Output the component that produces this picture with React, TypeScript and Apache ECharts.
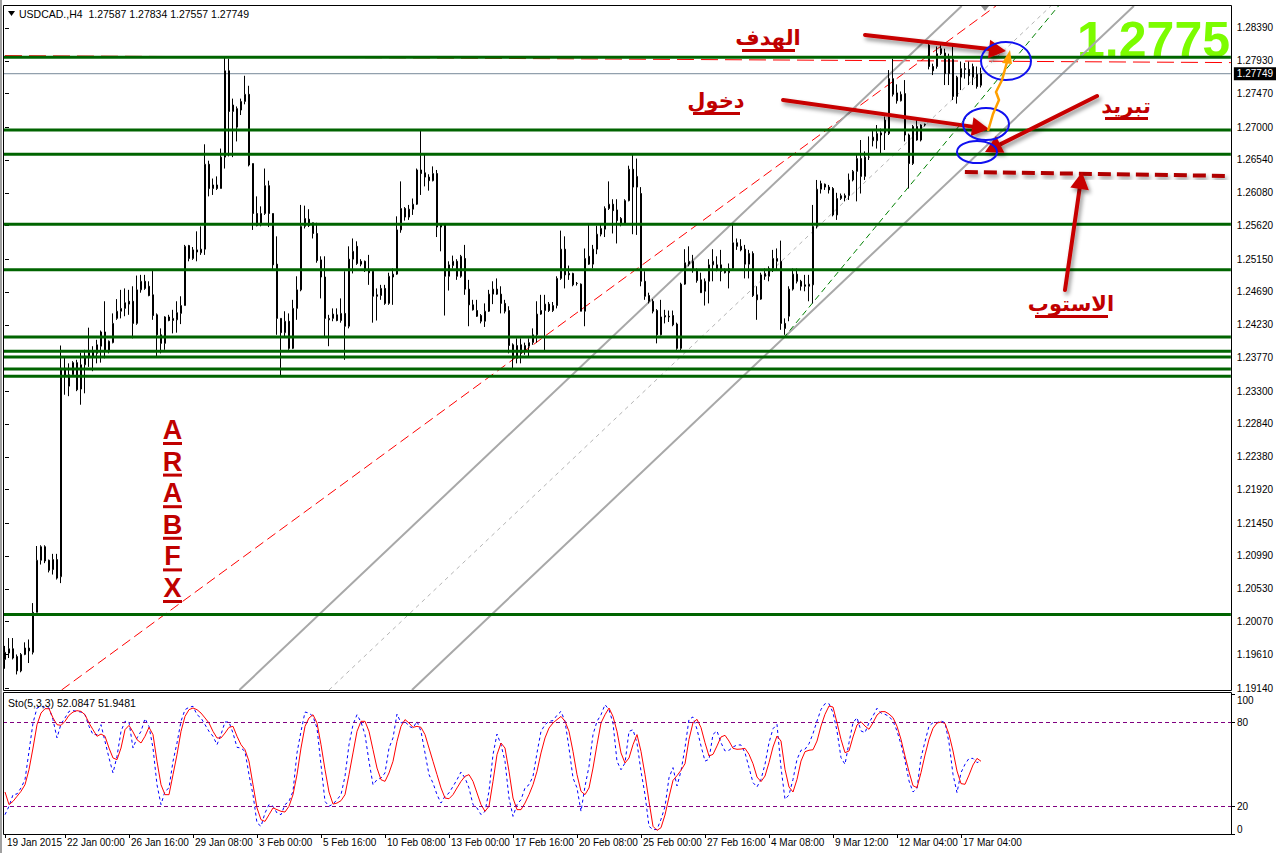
import React, { useEffect, useRef } from "react";
import * as echarts from "echarts";

const SLOTS = 307;

const timeLabels = ["19 Jan 2015", "22 Jan 00:00", "26 Jan 16:00", "29 Jan 08:00", "3 Feb 00:00", "5 Feb 16:00", "10 Feb 08:00", "13 Feb 00:00", "17 Feb 16:00", "20 Feb 08:00", "25 Feb 00:00", "27 Feb 16:00", "4 Mar 08:00", "9 Mar 12:00", "12 Mar 04:00", "17 Mar 04:00"];
const timeLabelBars = [0, 15, 31, 47, 63, 79, 95, 111, 127, 143, 159, 175, 191, 207, 223, 239];

const priceTicks = [1.2839, 1.2793, 1.2747, 1.27, 1.2654, 1.2608, 1.2562, 1.2515, 1.2469, 1.2423, 1.2377, 1.233, 1.2284, 1.2238, 1.2192, 1.2145, 1.2099, 1.2053, 1.2007, 1.1961, 1.1914];
const priceLevels = [1.2798, 1.2696, 1.2662, 1.2564, 1.25, 1.2406, 1.2386, 1.2378, 1.2361, 1.2351, 1.2017];
const lastPrice = 1.27749;

// [open, close, low, high]
const candles = [
  [1.1954, 1.1964, 1.1941, 1.1973], [1.1963, 1.1969, 1.1956, 1.1984], [1.1969, 1.1956, 1.1954, 1.1984], [1.1958, 1.1938, 1.1933, 1.1961], [1.1938, 1.1961, 1.1936, 1.1963],
  [1.1961, 1.197, 1.196, 1.1978], [1.197, 1.1966, 1.1949, 1.1982], [1.1964, 1.202, 1.1961, 1.2033], [1.202, 1.2093, 1.202, 1.2113], [1.2093, 1.2112, 1.2087, 1.2114],
  [1.2112, 1.2092, 1.2089, 1.2114], [1.2093, 1.2079, 1.2076, 1.2094], [1.208, 1.2094, 1.2073, 1.2102], [1.2094, 1.2068, 1.2066, 1.2102], [1.207, 1.2362, 1.2061, 1.2394],
  [1.2362, 1.2351, 1.2325, 1.2379], [1.2337, 1.2353, 1.2323, 1.2369], [1.2353, 1.237, 1.2351, 1.2372], [1.237, 1.2332, 1.233, 1.2374], [1.2333, 1.2367, 1.2311, 1.2384],
  [1.2367, 1.2379, 1.2327, 1.2388], [1.2377, 1.2384, 1.2364, 1.2419], [1.2379, 1.2386, 1.2358, 1.2393], [1.2383, 1.2395, 1.2369, 1.2402], [1.2393, 1.2413, 1.237, 1.2415],
  [1.2413, 1.2387, 1.2376, 1.2456], [1.2387, 1.24, 1.2383, 1.2401], [1.2398, 1.2425, 1.2397, 1.2439], [1.2432, 1.2442, 1.243, 1.2459], [1.2442, 1.2446, 1.2432, 1.2472],
  [1.2446, 1.2454, 1.2435, 1.2474], [1.2456, 1.2452, 1.2437, 1.2472], [1.2456, 1.2425, 1.2404, 1.2477], [1.2425, 1.2472, 1.2423, 1.2492], [1.2472, 1.2484, 1.2468, 1.2493],
  [1.2484, 1.2474, 1.2472, 1.2493], [1.2477, 1.2464, 1.2463, 1.2484], [1.2465, 1.2436, 1.243, 1.2499], [1.2437, 1.2409, 1.2378, 1.2439], [1.2409, 1.2397, 1.2383, 1.2418],
  [1.2397, 1.2434, 1.2388, 1.2435], [1.2434, 1.2429, 1.2428, 1.2437], [1.2429, 1.2432, 1.2411, 1.2444], [1.243, 1.244, 1.2412, 1.2456], [1.2439, 1.245, 1.2424, 1.2463],
  [1.245, 1.2533, 1.245, 1.2535], [1.2534, 1.2516, 1.2512, 1.2535], [1.2516, 1.2528, 1.2514, 1.2532], [1.2528, 1.2525, 1.2512, 1.2554], [1.2524, 1.2529, 1.2521, 1.2561],
  [1.2529, 1.2648, 1.2521, 1.2676], [1.2648, 1.2614, 1.2603, 1.2653], [1.2614, 1.2619, 1.2605, 1.2628], [1.2619, 1.2614, 1.2612, 1.2631], [1.2614, 1.2658, 1.2614, 1.267],
  [1.2658, 1.2779, 1.2642, 1.2798], [1.2779, 1.2722, 1.2659, 1.2796], [1.2722, 1.2731, 1.2658, 1.274], [1.27, 1.2726, 1.268, 1.2729], [1.2724, 1.2736, 1.2717, 1.274],
  [1.2736, 1.2746, 1.2732, 1.2772], [1.2746, 1.2647, 1.2645, 1.2758], [1.2649, 1.2579, 1.2556, 1.2649], [1.2579, 1.2562, 1.2561, 1.2603], [1.2563, 1.2579, 1.2561, 1.2589],
  [1.2579, 1.2618, 1.2577, 1.2642], [1.2618, 1.2579, 1.256, 1.2625], [1.2579, 1.2507, 1.25, 1.2579], [1.2508, 1.2432, 1.2409, 1.2547], [1.2432, 1.2412, 1.2351, 1.2432],
  [1.2412, 1.2428, 1.2407, 1.2442], [1.2428, 1.239, 1.2388, 1.2439], [1.239, 1.2446, 1.2389, 1.2458], [1.2446, 1.2472, 1.243, 1.2491], [1.2472, 1.2561, 1.247, 1.2591],
  [1.2561, 1.2572, 1.2558, 1.259], [1.2571, 1.2562, 1.256, 1.2585], [1.2566, 1.2551, 1.2544, 1.2566], [1.2551, 1.2513, 1.251, 1.2566], [1.2514, 1.249, 1.246, 1.2519],
  [1.249, 1.2432, 1.2407, 1.2519], [1.243, 1.2432, 1.2393, 1.2437], [1.2432, 1.2438, 1.2428, 1.2446], [1.2437, 1.2429, 1.2428, 1.2446], [1.2429, 1.2439, 1.2426, 1.246],
  [1.2439, 1.2421, 1.2374, 1.2498], [1.2421, 1.2515, 1.2418, 1.2533], [1.2515, 1.2526, 1.2495, 1.2544], [1.2533, 1.2509, 1.2507, 1.254], [1.2512, 1.2508, 1.2505, 1.2515],
  [1.2512, 1.2499, 1.2497, 1.2513], [1.25, 1.2496, 1.2479, 1.2521], [1.2498, 1.2463, 1.2426, 1.2498], [1.2465, 1.2463, 1.2429, 1.2474], [1.2464, 1.2474, 1.2458, 1.2479],
  [1.2474, 1.2453, 1.2451, 1.2479], [1.2453, 1.2491, 1.2451, 1.2496], [1.249, 1.2494, 1.2451, 1.2502], [1.2494, 1.2556, 1.2493, 1.2575], [1.2556, 1.2586, 1.2552, 1.2624],
  [1.2586, 1.2574, 1.2569, 1.2588], [1.2574, 1.2585, 1.257, 1.2591], [1.2585, 1.2592, 1.2577, 1.26], [1.2592, 1.264, 1.2591, 1.2642], [1.264, 1.2635, 1.2605, 1.2696],
  [1.2636, 1.263, 1.2617, 1.2663], [1.263, 1.2625, 1.2611, 1.2634], [1.2625, 1.2635, 1.2624, 1.2645], [1.2635, 1.256, 1.2546, 1.264], [1.2563, 1.256, 1.2526, 1.2565],
  [1.2563, 1.2491, 1.2436, 1.2565], [1.2491, 1.2507, 1.2471, 1.2512], [1.2506, 1.2512, 1.2502, 1.252], [1.2512, 1.2491, 1.2486, 1.2515], [1.2491, 1.2519, 1.2489, 1.2521],
  [1.2516, 1.2473, 1.2465, 1.2535], [1.2473, 1.2451, 1.2421, 1.2486], [1.2451, 1.2444, 1.2443, 1.2458], [1.2443, 1.2435, 1.2434, 1.2458], [1.2436, 1.2428, 1.2425, 1.2438],
  [1.2428, 1.2442, 1.242, 1.2453], [1.2442, 1.2466, 1.2441, 1.2472], [1.2466, 1.2473, 1.2452, 1.2484], [1.2473, 1.2466, 1.2465, 1.2488], [1.2466, 1.2453, 1.2439, 1.2477],
  [1.2453, 1.2442, 1.2439, 1.2458], [1.2443, 1.2394, 1.2383, 1.2449], [1.2395, 1.2376, 1.2361, 1.2397], [1.2376, 1.2394, 1.2369, 1.2404], [1.2395, 1.2383, 1.2369, 1.2404],
  [1.2387, 1.2394, 1.2381, 1.2398], [1.2393, 1.2398, 1.2379, 1.2404], [1.2398, 1.2409, 1.2395, 1.2418], [1.2409, 1.2438, 1.2398, 1.2456], [1.2438, 1.2443, 1.2437, 1.2465],
  [1.2443, 1.2452, 1.2387, 1.2465], [1.2452, 1.2443, 1.2441, 1.2455], [1.2443, 1.245, 1.2441, 1.2455], [1.245, 1.2488, 1.2446, 1.2491], [1.2488, 1.2529, 1.2486, 1.2555],
  [1.2529, 1.2493, 1.2474, 1.2547], [1.2495, 1.2493, 1.2486, 1.2506], [1.2495, 1.2479, 1.2477, 1.2496], [1.2481, 1.2481, 1.2478, 1.2483], [1.248, 1.2442, 1.2442, 1.2481],
  [1.2442, 1.2516, 1.2421, 1.253], [1.2519, 1.2508, 1.2507, 1.2564], [1.2508, 1.2529, 1.2502, 1.2535], [1.2529, 1.255, 1.2522, 1.2562], [1.255, 1.2558, 1.2547, 1.2565],
  [1.2557, 1.2586, 1.2546, 1.2589], [1.2586, 1.2592, 1.2584, 1.2624], [1.2592, 1.2583, 1.2551, 1.2599], [1.2584, 1.2569, 1.2537, 1.2599], [1.2572, 1.2565, 1.2561, 1.2574],
  [1.2565, 1.2597, 1.2564, 1.2599], [1.2597, 1.2641, 1.2596, 1.2646], [1.2641, 1.2616, 1.255, 1.2662], [1.2616, 1.2631, 1.2549, 1.2656], [1.2607, 1.2484, 1.2477, 1.2616],
  [1.2484, 1.2463, 1.2458, 1.2498], [1.2464, 1.2456, 1.2453, 1.2468], [1.2456, 1.2442, 1.2439, 1.2459], [1.2443, 1.2409, 1.2397, 1.2445], [1.2409, 1.2434, 1.2408, 1.2458],
  [1.2434, 1.2436, 1.2425, 1.2444], [1.2435, 1.2434, 1.2427, 1.2443], [1.2436, 1.2423, 1.2421, 1.2443], [1.2424, 1.239, 1.2388, 1.2426], [1.239, 1.248, 1.2386, 1.2482],
  [1.248, 1.251, 1.2479, 1.2529], [1.2508, 1.2512, 1.2505, 1.2533], [1.2512, 1.2499, 1.2496, 1.2521], [1.25, 1.2485, 1.2482, 1.2502], [1.2486, 1.2468, 1.2468, 1.2496],
  [1.247, 1.2484, 1.245, 1.2488], [1.2484, 1.2507, 1.2453, 1.2515], [1.2507, 1.2512, 1.2484, 1.2529], [1.2507, 1.2501, 1.2498, 1.2519], [1.2507, 1.2498, 1.2484, 1.2528],
  [1.2499, 1.2496, 1.2495, 1.2502], [1.2496, 1.2502, 1.2474, 1.2509], [1.2502, 1.2538, 1.25, 1.2564], [1.2538, 1.2533, 1.2528, 1.2544], [1.2533, 1.2528, 1.2526, 1.2543],
  [1.2529, 1.2508, 1.2488, 1.2535], [1.2508, 1.2523, 1.2488, 1.2528], [1.2523, 1.2464, 1.2462, 1.2526], [1.2465, 1.2458, 1.243, 1.2477], [1.2459, 1.2493, 1.2458, 1.2496],
  [1.2491, 1.2495, 1.2486, 1.2502], [1.2491, 1.2502, 1.2484, 1.2505], [1.2502, 1.2516, 1.2497, 1.2528], [1.2512, 1.2516, 1.25, 1.253], [1.2512, 1.2425, 1.2416, 1.2541],
  [1.2425, 1.2418, 1.2409, 1.2432], [1.2435, 1.2473, 1.2428, 1.2477], [1.2473, 1.2494, 1.2471, 1.2502], [1.2494, 1.2484, 1.2481, 1.2502], [1.2484, 1.2477, 1.2471, 1.2486],
  [1.2479, 1.2477, 1.247, 1.2493], [1.2477, 1.248, 1.2456, 1.2493], [1.2479, 1.2561, 1.2453, 1.2591], [1.2561, 1.2613, 1.2558, 1.2626], [1.2613, 1.2621, 1.2607, 1.2625],
  [1.262, 1.2616, 1.2612, 1.2621], [1.2616, 1.2612, 1.2607, 1.2619], [1.2614, 1.2577, 1.2575, 1.2616], [1.2577, 1.26, 1.257, 1.2608], [1.26, 1.2604, 1.2598, 1.2607],
  [1.2604, 1.2601, 1.2596, 1.2607], [1.2604, 1.2626, 1.2598, 1.2635], [1.2626, 1.2638, 1.2624, 1.264], [1.2638, 1.2656, 1.2596, 1.2661], [1.2656, 1.2631, 1.2607, 1.2682],
  [1.2631, 1.2658, 1.2626, 1.2666], [1.2658, 1.2658, 1.2654, 1.2687], [1.2681, 1.2686, 1.2673, 1.2696], [1.2681, 1.2691, 1.267, 1.2703], [1.2689, 1.2692, 1.2663, 1.2698],
  [1.2692, 1.271, 1.2668, 1.2715], [1.2691, 1.2768, 1.2689, 1.278], [1.2768, 1.2746, 1.2743, 1.2796], [1.2748, 1.2737, 1.2733, 1.276], [1.2737, 1.2746, 1.2736, 1.275],
  [1.2747, 1.2689, 1.268, 1.2766], [1.2689, 1.2649, 1.2614, 1.2691], [1.2649, 1.2701, 1.2647, 1.2703], [1.2701, 1.2682, 1.2681, 1.2711], [1.2682, 1.2703, 1.268, 1.2704],
  [1.2703, 1.2704, 1.2701, 1.2705], [1.2815, 1.2785, 1.2781, 1.282], [1.2785, 1.2779, 1.2773, 1.2789], [1.2785, 1.2803, 1.2782, 1.2813], [1.2803, 1.281, 1.2801, 1.2815],
  [1.2804, 1.2775, 1.2759, 1.281], [1.2796, 1.2775, 1.2759, 1.2803], [1.2795, 1.2743, 1.2738, 1.2817], [1.2743, 1.277, 1.2733, 1.2772], [1.277, 1.2782, 1.2752, 1.2792],
  [1.2782, 1.2781, 1.2768, 1.279], [1.2781, 1.2772, 1.2759, 1.2792], [1.277, 1.2785, 1.2759, 1.2789], [1.2774, 1.2757, 1.2754, 1.2785], [1.27587, 1.27749, 1.27557, 1.27834],
];

const stochK = [
  13.8, 19.8, 28.1, 28.6, 32.9, 38.8, 59.0, 79.3, 90.0, 91.2, 90.5, 90.0, 81.7, 68.6, 78.6, 82.9, 87.6, 88.1, 87.6, 87.1,
  85.2, 76.9, 71.0, 71.0, 78.1, 66.2, 54.3, 43.6, 55.5, 73.3, 80.5, 80.0, 61.4, 68.6, 73.3, 82.4, 76.9, 61.4, 35.2, 21.0,
  30.5, 32.9, 51.9, 65.0, 80.5, 88.8, 90.5, 91.2, 85.2, 82.9, 78.1, 73.3, 69.8, 63.8, 71.0, 80.0, 80.0, 72.1, 61.9, 61.4,
  59.0, 42.4, 28.1, 7.9, 5.5, 15.0, 21.0, 19.8, 15.0, 13.8, 21.0, 23.3, 30.5, 57.9, 73.3, 87.1, 86.4, 84.0, 75.7, 49.5,
  23.3, 19.8, 21.4, 24.5, 28.1, 41.2, 63.8, 78.1, 85.2, 80.0, 71.0, 51.9, 35.2, 38.8, 40.0, 43.6, 61.4, 68.6, 85.7, 79.3,
  80.5, 76.9, 75.7, 80.5, 73.3, 57.9, 42.4, 36.4, 28.1, 22.1, 26.9, 29.3, 34.0, 38.8, 44.3, 40.0, 32.9, 21.0, 18.6, 13.8,
  16.2, 30.5, 56.7, 71.4, 63.8, 51.9, 25.7, 12.6, 21.0, 24.5, 32.9, 35.2, 41.2, 57.9, 73.3, 78.1, 80.5, 81.0, 84.8, 87.6,
  80.5, 61.4, 40.0, 32.9, 16.2, 34.0, 48.3, 71.0, 80.5, 85.2, 92.4, 88.8, 79.3, 51.9, 45.9, 50.7, 73.3, 74.5, 65.0, 44.8,
  28.1, 5.5, 3.1, 3.3, 10.5, 19.5, 40.2, 47.4, 34.3, 45.0, 61.7, 81.9, 83.6, 74.8, 62.9, 52.1, 53.3, 71.2, 73.6, 65.2,
  59.3, 59.8, 62.1, 63.6, 63.6, 58.1, 47.4, 36.7, 33.6, 39.0, 49.8, 65.2, 75.2, 78.3, 47.4, 24.8, 27.9, 39.0, 53.3, 59.8,
  60.5, 64.5, 71.7, 80.7, 89.0, 93.1, 93.1, 86.7, 73.6, 54.5, 49.8, 65.2, 79.5, 83.1, 73.6, 72.4, 79.5, 84.3, 89.8, 86.4,
  85.5, 84.0, 80.7, 73.6, 64.0, 52.6, 37.9, 30.0, 32.6, 54.5, 66.0, 77.1, 79.5, 79.5, 80.7, 79.5, 65.2, 42.6, 29.5, 43.8,
  49.8, 54.0, 54.0, 51.0, 52.0847,
];

const stochD = [
  30.0, 21.0, 23.3, 26.9, 30.5, 35.2, 46.0, 61.4, 78.1, 86.4, 89.5, 89.5, 82.9, 78.1, 77.6, 80.5, 84.8, 87.1, 88.1, 87.6,
  85.2, 79.3, 74.5, 69.8, 71.4, 69.8, 61.4, 54.3, 53.1, 61.4, 74.5, 77.6, 72.9, 67.4, 65.0, 69.8, 76.2, 71.0, 51.9, 35.2,
  28.1, 28.1, 42.4, 56.7, 73.3, 84.0, 88.8, 90.0, 88.8, 86.4, 82.9, 79.3, 73.3, 68.6, 68.6, 72.1, 76.2, 76.9, 69.8, 63.8,
  60.2, 51.9, 35.2, 18.6, 10.2, 9.0, 13.8, 18.6, 17.4, 16.2, 15.7, 19.8, 28.1, 42.4, 61.4, 76.9, 82.9, 85.2, 79.3, 63.8,
  46.0, 30.0, 21.4, 22.1, 23.8, 28.1, 42.4, 57.9, 73.3, 80.5, 80.5, 73.3, 60.2, 47.1, 38.8, 37.6, 43.6, 51.9, 66.2, 76.9,
  81.7, 79.3, 76.2, 76.9, 76.2, 71.0, 61.4, 51.9, 42.4, 32.9, 25.7, 25.2, 28.1, 32.9, 37.6, 41.2, 42.4, 37.6, 29.3, 21.0,
  16.2, 19.8, 37.6, 56.7, 65.0, 61.4, 44.8, 25.7, 17.4, 17.4, 22.1, 28.1, 35.2, 44.8, 57.9, 68.6, 75.7, 79.3, 81.7, 84.0,
  80.5, 73.3, 59.0, 42.4, 30.5, 28.1, 32.9, 47.1, 63.8, 79.3, 85.2, 90.0, 84.0, 73.3, 57.9, 50.7, 54.3, 63.8, 71.0, 59.0,
  42.4, 23.3, 5.5, 2.6, 4.5, 13.6, 26.4, 38.3, 41.7, 45.5, 50.2, 67.6, 79.5, 81.9, 76.0, 65.2, 55.7, 56.9, 62.9, 69.3,
  70.5, 66.4, 61.2, 60.5, 60.7, 61.2, 56.9, 50.2, 40.7, 37.4, 41.4, 51.0, 62.1, 70.0, 66.4, 46.2, 33.6, 30.0, 39.0, 52.1,
  58.8, 59.8, 60.2, 66.4, 77.1, 85.5, 91.4, 90.7, 79.5, 67.6, 58.1, 59.3, 69.3, 77.9, 80.2, 77.1, 74.8, 79.5, 85.0, 87.4,
  87.4, 85.7, 83.1, 76.9, 67.6, 55.7, 44.5, 34.5, 33.1, 43.8, 56.4, 67.6, 75.5, 79.3, 80.0, 79.0, 71.2, 59.3, 45.0, 36.0,
  35.5, 42.1, 49.3, 54.0, 51.9481,
];
const stochLevels = [80, 20];
const stochTicks = [0, 20, 80, 100];

// drawn objects, in [bar index, price]
const redTopLine = [[0, 1.28003], [306.5, 1.27905]];
const redChannelLine = [[14.15, 1.19112], [247.75, 1.28698]];
const greyUpperLine = [[58.6, 1.19112], [239.2, 1.28698]];
const greyMidLine = [[81, 1.19112], [261.5, 1.28698]];
const greyLowerLine = [[101.75, 1.19112], [282.25, 1.28698]];
const greenRayLine = [[194.6, 1.24041], [263.4, 1.28698]];
const stopLine = [[240, 1.26372], [306.5, 1.26316]];

const FONT = "Liberation Sans";
const AR_FONT = "DejaVu Sans";
const DARK_RED = "#C00000";

function arrow(x1: number, y1: number, x2: number, y2: number, color: string, width: number, head: number) {
  const a = Math.atan2(y2 - y1, x2 - x1);
  const hx = x2 - head * Math.cos(a);
  const hy = y2 - head * Math.sin(a);
  const px = -Math.sin(a) * head * 0.55;
  const py = Math.cos(a) * head * 0.55;
  const shadow = { shadowBlur: 4, shadowColor: "rgba(0,0,0,0.45)", shadowOffsetX: 2, shadowOffsetY: 3 };
  return [
    { type: "line", z: 30, shape: { x1, y1, x2: hx, y2: hy }, style: { stroke: color, lineWidth: width, lineCap: "round", ...shadow } },
    { type: "polygon", z: 30, shape: { points: [[x2, y2], [hx + px, hy + py], [hx - px, hy - py]] }, style: { fill: color, ...shadow } },
  ];
}

function arText(text: string, cx: number, cy: number, size: number, ux1: number, ux2: number, uy: number) {
  return [
    { type: "text", z: 30, x: cx, y: cy, style: { text, fill: DARK_RED, fontFamily: AR_FONT, fontWeight: "bold", fontSize: size, align: "center", verticalAlign: "middle", shadowBlur: 2, shadowColor: "rgba(120,0,120,0.5)", shadowOffsetX: 1, shadowOffsetY: 1 } },
    { type: "rect", z: 30, shape: { x: ux1, y: uy, width: ux2 - ux1, height: 3 }, style: { fill: DARK_RED } },
  ];
}

function buildGraphics() {
  const g: any[] = [];
  g.push({ type: "rect", z: 0, shape: { x: 0, y: 0, width: 2, height: 853 }, style: { fill: "#A0A0A0" } });
  g.push({ type: "rect", z: 40, shape: { x: 3.5, y: 5.5, width: 1228, height: 685 }, style: { fill: "none", stroke: "#000", lineWidth: 1 } });
  g.push({ type: "rect", z: 40, shape: { x: 3.5, y: 692.5, width: 1228, height: 142 }, style: { fill: "none", stroke: "#000", lineWidth: 1 } });
  // header
  g.push({ type: "polygon", z: 40, shape: { points: [[8, 11], [15, 11], [11.5, 16]] }, style: { fill: "#000" } });
  g.push({ type: "text", z: 40, x: 19, y: 14, style: { text: "USDCAD.,H4  1.27587 1.27834 1.27557 1.27749", fill: "#000", fontFamily: FONT, fontSize: 10.5, verticalAlign: "middle" } });
  g.push({ type: "text", z: 40, x: 8, y: 703, style: { text: "Sto(5,3,3) 52.0847 51.9481", fill: "#000", fontFamily: FONT, fontSize: 10.5, verticalAlign: "middle" } });
  // chart shift marker
  g.push({ type: "polygon", z: 40, shape: { points: [[981, 6], [989, 6], [985, 11]] }, style: { fill: "#909090" } });
  // big green price
  g.push({ type: "text", z: 1, x: 1230, y: 40, style: { text: "1.2775", fill: "#7CFC00", fontFamily: FONT, fontWeight: "bold", fontSize: 50, align: "right", verticalAlign: "middle" } });
  // ARABFX
  const letters = ["A", "R", "A", "B", "F", "X"];
  letters.forEach((ch, i) => {
    const cy = 430 + i * 31.6;
    g.push({ type: "text", z: 30, x: 172.5, y: cy, style: { text: ch, fill: DARK_RED, fontFamily: FONT, fontWeight: "bold", fontSize: 27, align: "center", verticalAlign: "middle" } });
    g.push({ type: "rect", z: 30, shape: { x: 163, y: cy + 12, width: 19, height: 3 }, style: { fill: DARK_RED } });
  });
  // Arabic labels
  g.push(...arText("الهدف", 768, 38, 21, 742, 795, 49));
  g.push(...arText("دخول", 716, 101, 21, 693, 740, 112));
  g.push(...arText("تبريد", 1126, 106, 21, 1105, 1148, 117));
  g.push(...arText("الاستوب", 1071, 304, 21, 1035, 1108, 315));
  // arrows
  g.push(...arrow(865, 35, 1006, 51, "#C80000", 4, 17));
  g.push(...arrow(783, 100, 989, 129, "#C80000", 4, 17));
  g.push(...arrow(1097, 96, 985, 152, "#C80000", 4, 17));
  g.push(...arrow(1065, 290, 1082, 172, "#C80000", 4, 17));
  // ellipses
  g.push({ type: "ellipse", z: 31, shape: { cx: 1006, cy: 61, rx: 25, ry: 19 }, style: { fill: "none", stroke: "#1010F0", lineWidth: 2 } });
  g.push({ type: "ellipse", z: 31, shape: { cx: 986, cy: 124, rx: 23, ry: 16 }, style: { fill: "none", stroke: "#1010F0", lineWidth: 2 } });
  g.push({ type: "ellipse", z: 31, shape: { cx: 977, cy: 152, rx: 20, ry: 11 }, style: { fill: "none", stroke: "#1010F0", lineWidth: 2 } });
  // orange zigzag arrow
  g.push({ type: "polyline", z: 32, shape: { points: [[988, 131], [993, 114], [999, 100], [996, 92], [1002, 80], [1007, 62]] }, style: { stroke: "#FFA000", lineWidth: 2.5, fill: "none" } });
  g.push({ type: "polygon", z: 32, shape: { points: [[1010, 50], [1002, 63], [1012, 64]] }, style: { fill: "#FFA000" } });
  return g;
}

function lineSeries(data: number[][], color: string, width: number, type: any, z: number, extra: any = {}) {
  return {
    type: "line", xAxisIndex: 1, yAxisIndex: 0, data, symbol: "none", silent: true, z,
    lineStyle: { color, width, type, ...extra },
  };
}

export default function App() {
  const ref = useRef<HTMLDivElement>(null);
  useEffect(() => {
    document.body.style.margin = "0";
    const chart = echarts.init(ref.current!, null, { renderer: "svg" });
    const cats = Array.from({ length: SLOTS }, (_, i) => String(i));
    const labelMap: Record<number, string> = {};
    timeLabelBars.forEach((b, i) => (labelMap[b] = timeLabels[i]));
    const showIdx = (i: number) => labelMap[i] !== undefined;

    const option: any = {
      animation: false,
      backgroundColor: "#fff",
      grid: [
        { left: 3, top: 6, width: 1228, height: 684 },
        { left: 3, top: 694, width: 1228, height: 140 },
      ],
      xAxis: [
        { type: "category", gridIndex: 0, data: cats, show: false, boundaryGap: true },
        { type: "value", gridIndex: 0, min: -0.5, max: SLOTS - 0.5, show: false },
        {
          type: "category", gridIndex: 1, data: cats, boundaryGap: true, position: "bottom",
          axisLine: { show: false },
          axisTick: { show: true, interval: (i: number) => showIdx(i), alignWithLabel: true, length: 4, lineStyle: { color: "#000" } },
          axisLabel: { interval: (i: number) => showIdx(i), formatter: (v: string) => labelMap[Number(v)] ?? "", align: "left", margin: 3, padding: [0, 0, 0, 2], fontSize: 10, color: "#000", fontFamily: FONT },
          splitLine: { show: false },
        },
      ],
      yAxis: [
        {
          type: "value", gridIndex: 0, position: "right", min: 1.19112, max: 1.28698, scale: true,
          axisLine: { show: false }, splitLine: { show: false },
          axisTick: { show: true, customValues: priceTicks, length: 4, lineStyle: { color: "#000" } },
          axisLabel: { customValues: priceTicks, formatter: (v: number) => v.toFixed(5), margin: 6, fontSize: 10, color: "#000", fontFamily: FONT },
        },
        {
          type: "value", gridIndex: 1, position: "right", min: 0, max: 100,
          axisLine: { show: false }, splitLine: { show: false },
          axisTick: { show: true, customValues: stochTicks, length: 4, lineStyle: { color: "#000" } },
          axisLabel: {
            customValues: stochTicks, margin: 6, fontSize: 10, color: "#000", fontFamily: FONT, verticalAlignMinLabel: "bottom",
            formatter: (v: number) => (v === 100 ? "{t|100}" : String(v)),
            rich: { t: { fontSize: 10, color: "#000", fontFamily: FONT, padding: [12, 0, 0, 0] } },
          },
        },
      ],
      series: [
        lineSeries(redTopLine, "#FF0000", 1, [17, 7], 1),
        lineSeries(redChannelLine, "#FF0000", 1, [10, 5], 1),
        lineSeries(greyUpperLine, "#A8A8A8", 2, "solid", 1),
        lineSeries(greyMidLine, "#B4B4B4", 1, [4, 4], 1),
        lineSeries(greyLowerLine, "#A8A8A8", 2, "solid", 1),
        lineSeries(greenRayLine, "#008000", 1, [6, 4], 1),
        {
          type: "line", xAxisIndex: 1, yAxisIndex: 0, silent: true, z: 1, symbol: "none",
          data: [[-0.5, lastPrice], [SLOTS - 0.5, lastPrice]],
          lineStyle: { color: "#778899", width: 1 },
          endLabel: { show: true, formatter: lastPrice.toFixed(5), backgroundColor: "#000", color: "#fff", fontSize: 10, fontFamily: FONT, padding: [2, 3, 1, 3], distance: 3 },
        },
        {
          type: "candlestick", xAxisIndex: 0, yAxisIndex: 0, data: candles, barWidth: 2, z: 2, silent: true,
          itemStyle: { color: "#fff", color0: "#000", borderColor: "#000", borderColor0: "#000", borderWidth: 1 },
        },
        ...priceLevels.map((lv) => lineSeries([[-0.5, lv], [SLOTS - 0.5, lv]], "#006400", 3, "solid", 3)),
        lineSeries(stopLine, "#B00000", 4, [13, 6], 4, { shadowBlur: 4, shadowColor: "rgba(0,0,0,0.4)", shadowOffsetX: 2, shadowOffsetY: 3 }),
        {
          type: "line", xAxisIndex: 2, yAxisIndex: 1, data: stochK, symbol: "none", silent: true, z: 2,
          lineStyle: { color: "#0000FF", width: 1, type: [3, 3] },
          markLine: {
            silent: true, symbol: "none", animation: false, label: { show: false },
            lineStyle: { color: "#800080", width: 1, type: [4, 3] },
            data: stochLevels.map((v) => ({ yAxis: v })),
          },
        },
        {
          type: "line", xAxisIndex: 2, yAxisIndex: 1, data: stochD, symbol: "none", silent: true, z: 3,
          lineStyle: { color: "#FF0000", width: 1 },
        },
      ],
      graphic: buildGraphics(),
    };
    chart.setOption(option);
    return () => chart.dispose();
  }, []);
  return <div ref={ref} style={{ position: "fixed", left: 0, top: 0, width: 1276, height: 853, background: "#fff" }} />;
}
